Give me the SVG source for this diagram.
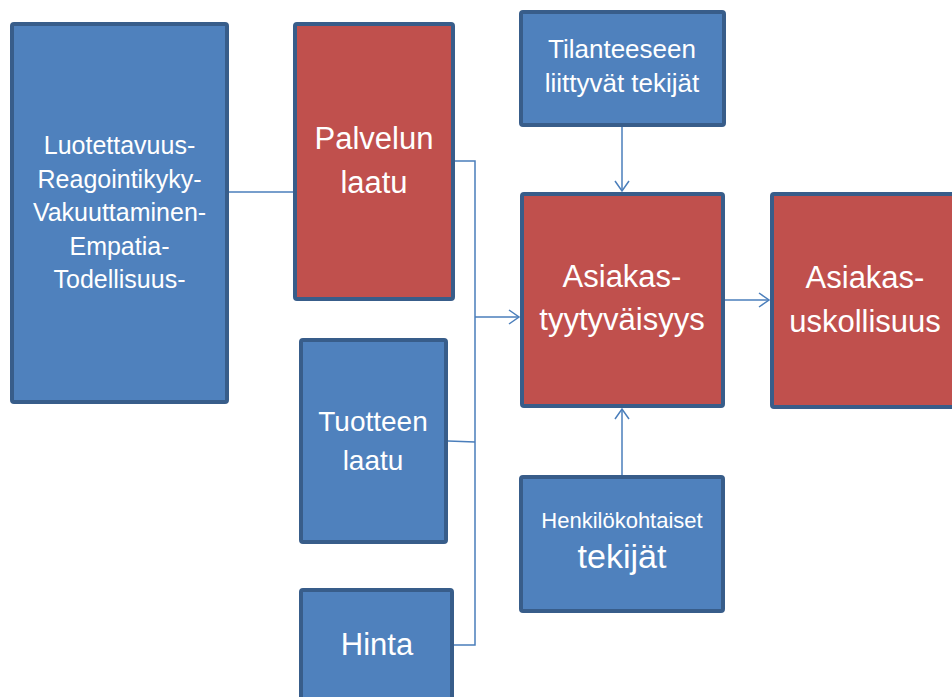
<svg xmlns="http://www.w3.org/2000/svg" width="952" height="697" viewBox="0 0 952 697">
<defs>
<style>
.blue{fill:#4f81bd;stroke:#385d8a;stroke-width:4}
.red{fill:#c0504d;stroke:#385d8a;stroke-width:4}
.t{fill:#ffffff;font-family:"Liberation Sans",Arial,sans-serif;text-anchor:middle}
.c{fill:none;stroke:#4a7ebb;stroke-width:1.5}
</style>
<marker id="arr" markerUnits="userSpaceOnUse" viewBox="-12 -9 14 18" markerWidth="14" markerHeight="18" refX="0" refY="0" orient="auto">
<path d="M-10,-7 L0,0 L-10,7" fill="none" stroke="#4a7ebb" stroke-width="1.5"/>
</marker>
</defs>
<rect width="952" height="697" fill="#ffffff"/>
<g id="connectors">
<line class="c" x1="229" y1="192" x2="295" y2="192"/>
<polyline class="c" points="455,161 475,161 475,645 454,645"/>
<line class="c" x1="448" y1="441" x2="475" y2="442"/>
<line class="c" x1="475" y1="317" x2="519" y2="317" marker-end="url(#arr)"/>
<line class="c" x1="622" y1="127" x2="622" y2="191" marker-end="url(#arr)"/>
<line class="c" x1="622" y1="475" x2="622" y2="409" marker-end="url(#arr)"/>
<line class="c" x1="725" y1="300" x2="769" y2="300" marker-end="url(#arr)"/>
</g>
<g id="servqual">
<rect class="blue" x="12" y="24" width="215" height="378" rx="2"/>
<text class="t" font-size="25"><tspan x="119.5" y="154">Luotettavuus-</tspan><tspan x="119.5" y="188">Reagointikyky-</tspan><tspan x="119.5" y="221">Vakuuttaminen-</tspan><tspan x="119.5" y="255">Empatia-</tspan><tspan x="119.5" y="288">Todellisuus-</tspan></text>
</g>
<g id="palvelun-laatu">
<rect class="red" x="295" y="24" width="158" height="275" rx="2"/>
<text class="t" font-size="31"><tspan x="374" y="149">Palvelun</tspan><tspan x="374" y="193">laatu</tspan></text>
</g>
<g id="tilanteeseen">
<rect class="blue" x="521" y="12" width="203" height="113" rx="2"/>
<text class="t" font-size="26"><tspan x="622" y="58">Tilanteeseen</tspan><tspan x="622" y="92">liittyvät tekijät</tspan></text>
</g>
<g id="tyytyvaisyys">
<rect class="red" x="522" y="194" width="201" height="212" rx="2"/>
<text class="t" font-size="31"><tspan x="622" y="287">Asiakas-</tspan><tspan x="622" y="330">tyytyväisyys</tspan></text>
</g>
<g id="uskollisuus">
<rect class="red" x="772" y="194" width="201" height="213" rx="2"/>
<text class="t" font-size="31"><tspan x="865" y="288">Asiakas-</tspan><tspan x="865" y="332">uskollisuus</tspan></text>
</g>
<g id="tuotteen-laatu">
<rect class="blue" x="301" y="340" width="145" height="202" rx="2"/>
<text class="t" font-size="28"><tspan x="373" y="431">Tuotteen</tspan><tspan x="373" y="470">laatu</tspan></text>
</g>
<g id="hinta">
<rect class="blue" x="301" y="590" width="151" height="130" rx="2"/>
<text class="t" font-size="31" x="377" y="655">Hinta</text>
</g>
<g id="henkilokohtaiset">
<rect class="blue" x="521" y="477" width="202" height="134" rx="2"/>
<text class="t"><tspan x="622" y="528" font-size="22">Henkilökohtaiset</tspan><tspan x="622" y="568" font-size="34">tekijät</tspan></text>
</g>
</svg>
